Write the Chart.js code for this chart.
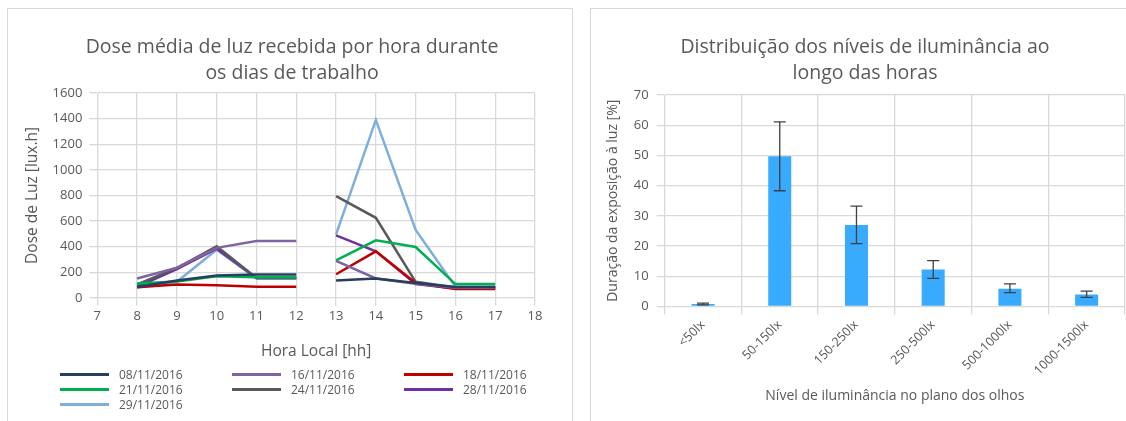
<!DOCTYPE html>
<html>
<head>
<meta charset="utf-8">
<script src="https://cdn.jsdelivr.net/npm/chart.js@4"></script>
<style>
  body { margin: 0; background: #fff; font-family: "Open Sans", sans-serif; }
  .panel { position: absolute; top: 8px; border: 1px solid #d9d9d9; background: #fff; box-sizing: border-box; }
  #left { left: 7px; width: 566px; height: 420px; }
  #right { left: 590px; width: 540px; height: 420px; }
  canvas { position: absolute; left: 0; top: 0; }
  .title { position: absolute; top: 33px; text-align: center; font-size: 19.5px; line-height: 26px; color: #595959; }
  #legend { position: absolute; left: 52px; top: 358px; width: 520px; }
  .item { position: absolute; font-size: 12px; color: #595959; white-space: nowrap; line-height: 15px; }
  .item span.sw { display: inline-block; width: 49px; height: 3px; vertical-align: middle; margin-right: 10px; position: relative; top: -1px; }
</style>
</head>
<body>
<div class="panel" id="left"><canvas id="doseChart" width="564" height="418"></canvas><div id="legend"></div></div>
<div class="panel" id="right"><canvas id="distChart" width="538" height="418"></canvas></div>
<div class="title" style="left:7px;width:570px">Dose média de luz recebida por hora durante<br>os dias de trabalho</div>
<div class="title" style="left:590px;width:550px">Distribuição dos níveis de iluminância ao<br>longo das horas</div>
<script>
// --- dados do gráfico da esquerda ---
const hours = [8, 9, 10, 11, 12, 13, 14, 15, 16, 17];
const dates = ['08/11/2016', '16/11/2016', '18/11/2016', '21/11/2016', '24/11/2016', '28/11/2016', '29/11/2016'];
const dose0811 = [85, 135, 175, 182, 182, 135, 151, 115, 85, 85];
const dose1611 = [151, 235, 390, 444, 444, 288, 151, 110, 78, 78];
const dose1811 = [82, 104, 99, 86, 86, 184, 363, 115, 68, 68];
const dose2111 = [112, 128, 169, 160, 160, 293, 449, 397, 107, 107];
const dose2411 = [104, 233, 402, 155, 155, 795, 625, 125, 80, 80];
const dose2811 = [85, 225, 384, 155, 155, 488, 363, 107, 72, 72];
const dose2911 = [80, 125, 376, 151, 151, 495, 1390, 530, 86, 86];
const lineColors = ['#243f60', '#8064a2', '#c00000', '#00b050', '#595959', '#7030a0', '#7eaedc'];

// --- dados do gráfico da direita ---
const levels = ['<50lx', '50-150lx', '150-250lx', '250-500lx', '500-1000lx', '1000-1500lx'];
const duration = [0.8, 49.7, 27.0, 12.2, 5.9, 4.0];
const errLow = [0.5, 38.3, 20.8, 9.3, 4.6, 3.0];
const errHigh = [1.1, 61.1, 33.2, 15.2, 7.5, 5.1];

const grey = '#595959';
const gridColor = '#d9d9d9';
const fontFam = '"Open Sans", sans-serif';

const allDose = [dose0811, dose1611, dose1811, dose2111, dose2411, dose2811, dose2911];

new Chart(document.getElementById('doseChart'), {
    type: 'line',
    data: {
        datasets: allDose.map((vals, i) => ({
            label: dates[i],
            data: hours.map((h, j) => ({ x: h, y: vals[j] })),
            borderColor: lineColors[i],
            backgroundColor: lineColors[i],
            borderWidth: 2.5,
            pointRadius: 0,
            tension: 0,
            // sem linha entre as 12h e as 13h (almoço)
            segment: { borderColor: ctx => ctx.p0.parsed.x === 12 ? 'transparent' : undefined }
        }))
    },
    options: {
        responsive: false,
        animation: false,
        layout: { padding: { left: 11, right: 37, top: 84, bottom: 62 } },
        plugins: {
            legend: { display: false },
            tooltip: { enabled: false },
            title: { display: false }
        },
        scales: {
            x: {
                type: 'linear',
                min: 7, max: 18,
                ticks: { stepSize: 1, color: grey, font: { family: fontFam, size: 13 }, callback: v => String(v) },
                grid: { color: gridColor, lineWidth: 1.3 },
                border: { color: gridColor },
                title: { display: true, text: 'Hora Local [hh]', color: grey, font: { family: fontFam, size: 15.5 }, padding: { top: 15 } }
            },
            y: {
                min: 0, max: 1600,
                ticks: { stepSize: 200, color: grey, padding: 7, font: { family: fontFam, size: 13 }, callback: v => String(v) },
                grid: { color: gridColor, lineWidth: 1.3 },
                border: { color: gridColor },
                title: { display: true, text: 'Dose de Luz [lux.h]', color: grey, font: { family: fontFam, size: 15.5 } }
            }
        }
    }
});

// legenda em 3 colunas
const legendEl = document.getElementById('legend');
dates.forEach((d, i) => {
    const el = document.createElement('div');
    el.className = 'item';
    el.style.left = (i % 3) * 172 + 'px';
    el.style.top = Math.floor(i / 3) * 15 + 'px';
    el.innerHTML = `<span class="sw" style="background:${lineColors[i]}"></span>${d}`;
    legendEl.appendChild(el);
});

// barras de erro
const errorBars = {
    id: 'errorBars',
    afterDatasetsDraw(chart) {
        const ctx = chart.ctx;
        const yScale = chart.scales.y;
        const meta = chart.getDatasetMeta(0);
        ctx.save();
        ctx.strokeStyle = '#404040';
        ctx.lineWidth = 1.3;
        meta.data.forEach((bar, i) => {
            const top = yScale.getPixelForValue(errHigh[i]);
            const bot = yScale.getPixelForValue(errLow[i]);
            ctx.beginPath();
            ctx.moveTo(bar.x, top); ctx.lineTo(bar.x, bot);
            ctx.moveTo(bar.x - 6, top); ctx.lineTo(bar.x + 6, top);
            ctx.moveTo(bar.x - 6, bot); ctx.lineTo(bar.x + 6, bot);
            ctx.stroke();
        });
        ctx.restore();
    }
};

new Chart(document.getElementById('distChart'), {
    type: 'bar',
    data: {
        labels: levels,
        datasets: [{
            data: duration,
            backgroundColor: '#38abff',
            categoryPercentage: 1,
            barPercentage: 0.3
        }]
    },
    plugins: [errorBars],
    options: {
        responsive: false,
        animation: false,
        layout: { padding: { left: 10, right: 4, top: 86, bottom: 19 } },
        plugins: {
            legend: { display: false },
            tooltip: { enabled: false },
            title: { display: false }
        },
        scales: {
            x: {
                ticks: { color: grey, font: { family: fontFam, size: 12.5 }, maxRotation: 45, minRotation: 45 },
                grid: { color: gridColor, lineWidth: 1.3 },
                border: { color: gridColor },
                title: { display: true, text: 'Nível de iluminância no plano dos olhos', color: grey, font: { family: fontFam, size: 14 }, padding: { top: 6 } }
            },
            y: {
                min: 0, max: 70,
                ticks: { stepSize: 10, color: grey, padding: 8, font: { family: fontFam, size: 13 } },
                grid: { color: gridColor, lineWidth: 1.3 },
                border: { color: gridColor },
                title: { display: true, text: 'Duração da exposição à luz [%]', color: grey, font: { family: fontFam, size: 14 } }
            }
        }
    }
});
</script>
</body>
</html>
